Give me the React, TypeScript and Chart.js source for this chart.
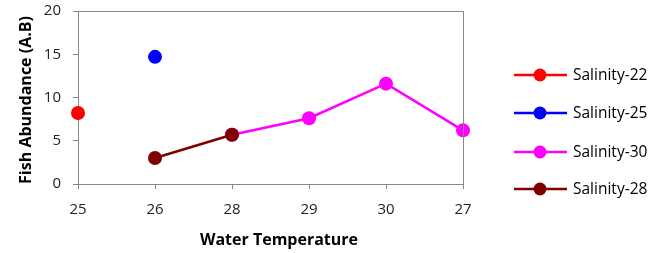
import React, { useEffect, useRef } from "react";
import { Chart, registerables } from "chart.js";

Chart.register(...registerables);

const temperatures = ["25", "26", "28", "29", "30", "27"];
const salinity22 = [8.2, null, null, null, null, null];
const salinity25 = [null, 14.7, null, null, null, null];
const salinity30 = [null, null, 5.7, 7.6, 11.6, 6.2];
const salinity28 = [null, 3.0, 5.7, null, null, null];
const yTicks = [0, 5, 10, 15, 20];

const seriesNames = ["Salinity-22", "Salinity-25", "Salinity-30", "Salinity-28"];
const seriesColors = ["#FF0000", "#0000FF", "#FF00FF", "#7F0000"];

const FONT = "'Open Sans', 'Noto Sans', sans-serif";

const framePlugin = {
  id: "frame",
  afterDraw(chart: any) {
    const { ctx, chartArea } = chart;
    ctx.save();
    ctx.strokeStyle = "#878787";
    ctx.lineWidth = 1;
    ctx.beginPath();
    ctx.moveTo(chartArea.left, chartArea.top + 0.5);
    ctx.lineTo(chartArea.right + 0.5, chartArea.top + 0.5);
    ctx.lineTo(chartArea.right + 0.5, chartArea.bottom);
    ctx.stroke();

    // axis titles
    ctx.fillStyle = "#000";
    ctx.font = `bold 16px ${FONT}`;
    ctx.textAlign = "center";
    ctx.textBaseline = "middle";
    ctx.fillText("Water Temperature", 279, 240);
    ctx.save();
    ctx.translate(26, 100);
    ctx.rotate(-Math.PI / 2);
    ctx.fillText("Fish Abundance (A.B)", 0, 0);
    ctx.restore();

    // legend
    const ys = [75, 113, 152, 189];
    ctx.font = `15.5px ${FONT}`;
    ctx.textAlign = "left";
    seriesNames.forEach((name, i) => {
      const y = ys[i];
      ctx.strokeStyle = seriesColors[i];
      ctx.lineWidth = 2.5;
      ctx.beginPath();
      ctx.moveTo(514, y);
      ctx.lineTo(567, y);
      ctx.stroke();
      ctx.fillStyle = seriesColors[i];
      ctx.beginPath();
      ctx.arc(540, y, 6.5, 0, Math.PI * 2);
      ctx.fill();
      ctx.fillStyle = "#000";
      ctx.fillText(name, 573, y + 1);
    });
    ctx.restore();
  },
};

export default function App() {
  const ref = useRef<HTMLCanvasElement>(null);
  useEffect(() => {
    document.body.style.margin = "0";
    const series = [salinity22, salinity25, salinity30, salinity28];
    const chart = new Chart(ref.current!, {
      type: "line",
      data: {
        labels: temperatures,
        datasets: series.map((d, i) => ({
          label: seriesNames[i],
          data: d,
          borderColor: seriesColors[i],
          backgroundColor: seriesColors[i],
          pointBackgroundColor: seriesColors[i],
          pointBorderColor: seriesColors[i],
          pointRadius: 7,
          pointBorderWidth: 0,
          borderWidth: 2.5,
          clip: false,
          spanGaps: false,
          order: i === 3 ? 0 : 1,
        })),
      },
      options: {
        animation: false,
        responsive: false,
        maintainAspectRatio: false,
        layout: { padding: { left: 0, top: 11, right: 189, bottom: 0 } },
        plugins: { legend: { display: false }, tooltip: { enabled: false } },
        scales: {
          x: {
            type: "category",
            offset: false,
            afterFit: (s: any) => { s.height = 69; s.paddingLeft = 0; s.paddingRight = 0; },
            grid: { display: true, drawOnChartArea: false, drawTicks: true, tickLength: 5, color: "#878787" },
            border: { display: true, color: "#878787", width: 1 },
            ticks: { color: "#222", font: { family: FONT, size: 15 }, padding: 12, maxRotation: 0 },
          },
          y: {
            min: 0,
            max: 20,
            afterFit: (s: any) => { s.width = 78; s.paddingTop = 0; s.paddingBottom = 0; },
            afterBuildTicks: (s: any) => { s.ticks = yTicks.map((v) => ({ value: v })); },
            grid: { display: true, drawOnChartArea: false, drawTicks: true, tickLength: 5, color: "#878787" },
            border: { display: true, color: "#878787", width: 1 },
            ticks: { color: "#222", font: { family: FONT, size: 15 }, padding: 12 },
          },
        },
      },
      plugins: [framePlugin],
    } as any);
    return () => chart.destroy();
  }, []);
  return (
    <div style={{ width: 652, height: 253 }}>
      <canvas ref={ref} width={652} height={253} />
    </div>
  );
}
